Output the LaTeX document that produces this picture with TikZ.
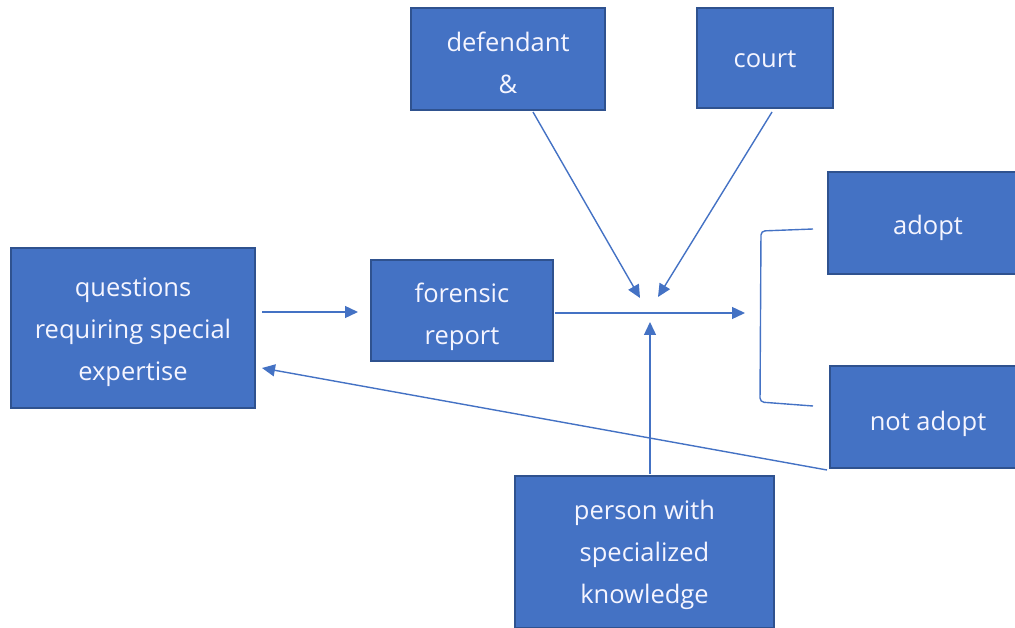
\documentclass[tikz,border=0pt]{standalone}
\usepackage{fontspec}
\setmainfont{Open Sans}
\usetikzlibrary{arrows.meta}
\definecolor{boxfill}{HTML}{4472C4}
\definecolor{boxline}{HTML}{2F528F}
\definecolor{conn}{HTML}{4472C4}
\newcommand\boxlbl[2][4pt]{\raisebox{-#1}[\height][\depth]{\begin{tabular}{@{}c@{}}#2\end{tabular}}}
\begin{document}
\begin{tikzpicture}[x=1pt,y=-1pt,
  box/.style={draw=boxline, line width=1.6pt, fill=boxfill, text=white!96!blue,
    inner sep=0pt, font=\fontsize{25.5}{42}\selectfont},
  conn/.style={draw=conn, line width=1.4pt},
  arr/.style={conn, -{Triangle[length=13pt,width=12pt]}}]
\useasboundingbox (0,0) rectangle (1015,628);
% boxes
\node[box, minimum width=244pt, minimum height=160pt] (q) at (133,328) {\boxlbl[2pt]{questions\\requiring special\\expertise}};
\node[box, minimum width=182pt, minimum height=101pt] (f) at (462,310.5) {\boxlbl[5pt]{forensic\\report}};
\node[box, minimum width=194pt, minimum height=102pt] (d) at (508,59) {\boxlbl[5pt]{defendant\\\&}};
\node[box, minimum width=136pt, minimum height=100pt] (c) at (765,58) {\boxlbl[1pt]{court}};
\node[box, minimum width=200pt, minimum height=102pt] (a) at (928,223) {\boxlbl[3pt]{adopt}};
\node[box, minimum width=200pt, minimum height=102pt] (n) at (930,417) {\hspace*{-4pt}\boxlbl[5pt]{not adopt}};
\node[box, minimum width=259pt, minimum height=152pt] (p) at (644.5,552) {\boxlbl[1pt]{person with\\specialized\\knowledge}};
% connector ends
\coordinate (qin) at (262,312);
\coordinate (fin) at (358,312);
\coordinate (fout) at (555,313);
\coordinate (mid) at (745,313);
\coordinate (ds) at (533,112);
\coordinate (dt) at (640,298);
\coordinate (cs) at (772,112);
\coordinate (ct) at (658,297);
\coordinate (ps) at (650,474);
\coordinate (pt) at (650,322);
\coordinate (ns) at (827,470);
\coordinate (qt) at (262,368);
\coordinate (b1) at (813,229);
\coordinate (b2) at (813,406);
% arrows
\draw[arr] (qin) -- (fin);
\draw[arr] (fout) -- (mid);
\draw[arr] (ds) -- (dt);
\draw[arr] (cs) -- (ct);
\draw[arr] (ps) -- (pt);
\draw[arr] (ns) -- (qt);
% bracket
\draw[conn, rounded corners=4pt] (b1) -- (761,231) -- (760,402) -- (b2);
\end{tikzpicture}
\end{document}
